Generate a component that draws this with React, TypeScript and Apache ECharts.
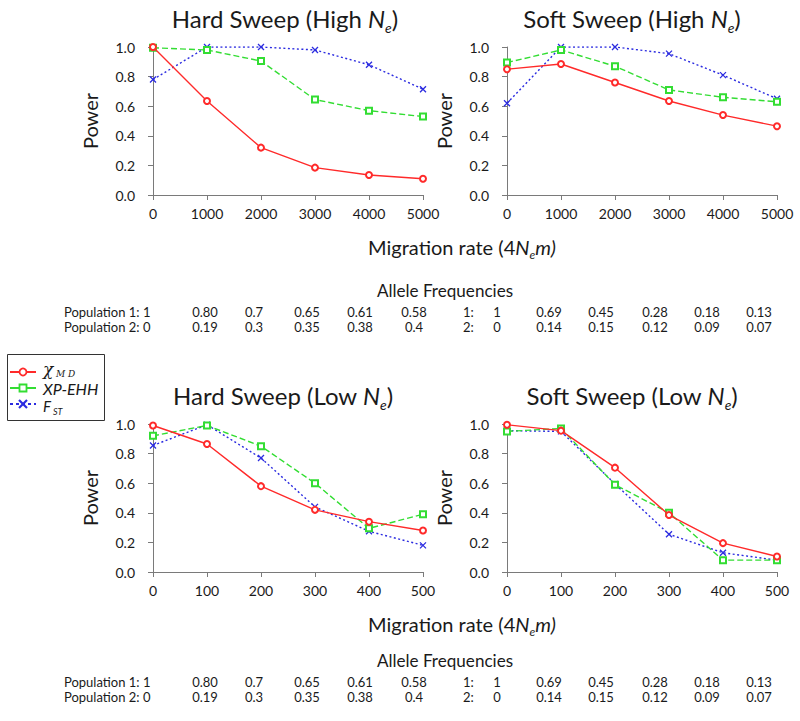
import React, { useEffect, useRef } from 'react';
import * as echarts from 'echarts';

// ---------- data ----------
const migrationHigh = [0, 1000, 2000, 3000, 4000, 5000];
const migrationLow = [0, 100, 200, 300, 400, 500];
const seriesNames = ['χMD', 'XP-EHH', 'FST'];

const hardHighChi = [1.0, 0.635, 0.32, 0.185, 0.135, 0.11];
const hardHighXp = [0.995, 0.98, 0.905, 0.645, 0.57, 0.53];
const hardHighFst = [0.78, 1.0, 1.0, 0.98, 0.88, 0.715];

const softHighChi = [0.85, 0.885, 0.76, 0.635, 0.54, 0.465];
const softHighXp = [0.895, 0.98, 0.87, 0.71, 0.66, 0.63];
const softHighFst = [0.62, 1.0, 1.0, 0.955, 0.81, 0.65];

const hardLowChi = [0.99, 0.865, 0.58, 0.42, 0.34, 0.28];
const hardLowXp = [0.92, 0.99, 0.85, 0.6, 0.295, 0.39];
const hardLowFst = [0.855, 0.995, 0.77, 0.44, 0.275, 0.18];

const softLowChi = [0.995, 0.955, 0.705, 0.385, 0.195, 0.105];
const softLowXp = [0.95, 0.97, 0.59, 0.4, 0.08, 0.08];
const softLowFst = [0.955, 0.95, 0.595, 0.255, 0.13, 0.08];

const panelTitles = ['Hard Sweep (High ', 'Soft Sweep (High ', 'Hard Sweep (Low ', 'Soft Sweep (Low '];

const hardPop1 = ['1', '0.80', '0.7', '0.65', '0.61', '0.58'];
const hardPop2 = ['0', '0.19', '0.3', '0.35', '0.38', '0.4'];
const softPop1 = ['1', '0.69', '0.45', '0.28', '0.18', '0.13'];
const softPop2 = ['0', '0.14', '0.15', '0.12', '0.09', '0.07'];

// ---------- layout ----------
const FONT = 'Lato';
const TXT = '#1a1a1a';
const AXIS = '#7a7a7a';
const RED = '#ff2a2a';
const GREEN = '#33dd33';
const BLUE = '#2b2be0';
const gridPos = [
  { left: 153, top: 47 },
  { left: 507, top: 47 },
  { left: 153, top: 424 },
  { left: 507, top: 424 },
];
const GW = 270;
const GH = 148;
const titlePos = [
  [285, 18],
  [632, 18],
  [283, 395],
  [632, 395],
];
const migLabelY = [247, 624];
const tableY = [290, 660];
const hardColX = [205, 254, 307, 360, 414];
const softColX = [549, 601, 655, 707, 759];

const panels = [
  { xs: migrationHigh, ys: [hardHighChi, hardHighXp, hardHighFst] },
  { xs: migrationHigh, ys: [softHighChi, softHighXp, softHighFst] },
  { xs: migrationLow, ys: [hardLowChi, hardLowXp, hardLowFst] },
  { xs: migrationLow, ys: [softLowChi, softLowXp, softLowFst] },
];

const XPATH = 'path://M0,0L10,10M10,0L0,10';

function richText(x: number, y: number, text: string, rich: any) {
  return {
    type: 'text',
    x,
    y,
    style: {
      text,
      rich,
      align: 'center',
      textAlign: 'center',
      verticalAlign: 'middle',
      textVerticalAlign: 'middle',
      fill: TXT,
    },
  };
}

function plainText(
  x: number,
  y: number,
  text: string,
  fontSize: number,
  align: string,
  scaleX = 1,
  extra: any = {}
) {
  return {
    type: 'text',
    x,
    y,
    scaleX,
    style: {
      text,
      fontSize,
      fontFamily: FONT,
      fill: TXT,
      align,
      textAlign: align,
      verticalAlign: 'middle',
      textVerticalAlign: 'middle',
      ...extra,
    },
  };
}

function buildOption() {
  const grid = gridPos.map((g) => ({ left: g.left, top: g.top, width: GW, height: GH }));
  const xAxis = panels.map((p, i) => ({
    gridIndex: i,
    type: 'value',
    min: 0,
    max: p.xs[p.xs.length - 1],
    interval: p.xs[1] - p.xs[0],
    offset: 5,
    axisLine: { show: true, lineStyle: { color: AXIS, width: 1 } },
    axisTick: { show: true, length: 5, lineStyle: { color: AXIS, width: 1 } },
    axisLabel: {
      color: TXT,
      fontSize: 14,
      fontFamily: FONT,
      margin: 6,
      formatter: (v: number) => String(v),
    },
    splitLine: { show: false },
  }));
  const yAxis = panels.map((_p, i) => ({
    gridIndex: i,
    type: 'value',
    min: 0,
    max: 1,
    interval: 0.2,
    offset: 10,
    name: 'Power',
    nameLocation: 'middle',
    nameRotate: 90,
    nameGap: 43,
    nameTextStyle: { fontSize: 20, fontFamily: FONT, color: TXT },
    axisLine: { show: true, lineStyle: { color: AXIS, width: 1 } },
    axisTick: { show: true, length: 5, lineStyle: { color: AXIS, width: 1 } },
    axisLabel: {
      color: TXT,
      fontSize: 14,
      fontFamily: FONT,
      margin: 8,
      formatter: (v: number) => v.toFixed(1),
    },
    splitLine: { show: false },
  }));

  const styles = [
    { color: RED, symbol: 'emptyCircle', size: 6, type: 'solid' as any },
    { color: GREEN, symbol: 'emptyRect', size: 6, type: [6, 3] as any },
    { color: BLUE, symbol: XPATH, size: 6, type: [2, 2.5] as any },
  ];
  const series: any[] = [];
  panels.forEach((p, i) => {
    p.ys.forEach((ys, k) => {
      const st = styles[k];
      series.push({
        type: 'line',
        name: seriesNames[k],
        xAxisIndex: i,
        yAxisIndex: i,
        data: p.xs.map((x, j) => [x, ys[j]]),
        symbol: st.symbol,
        symbolSize: st.size,
        symbolKeepAspect: true,
        lineStyle: { color: st.color, width: 1.4, type: st.type },
        itemStyle: { color: st.color, borderColor: st.color, borderWidth: 1.3 },
        z: 3 - k,
      });
    });
  });

  const titleRich = {
    a: { fontSize: 24, fontFamily: FONT, fill: TXT },
    n: { fontSize: 24, fontFamily: FONT, fontStyle: 'italic', fill: TXT },
    s: { fontSize: 14, fontFamily: FONT, fontStyle: 'italic', fill: TXT, padding: [18, 0, 0, 0] },
  };
  const graphic: any[] = [];
  panelTitles.forEach((t, i) => {
    graphic.push(richText(titlePos[i][0], titlePos[i][1], `{a|${t}}{n|N}{s|e}{a|)}`, titleRich));
  });

  const migRich = {
    a: { fontSize: 20, fontFamily: FONT, fill: TXT },
    n: { fontSize: 20, fontFamily: FONT, fontStyle: 'italic', fill: TXT },
    s: { fontSize: 12, fontFamily: FONT, fontStyle: 'italic', fill: TXT, padding: [14, 0, 0, 0] },
  };
  migLabelY.forEach((y) => {
    graphic.push(richText(462, y, '{a|Migration rate (4}{n|N}{s|e}{n|m)}', migRich));
  });

  // allele frequency tables
  const TS = 14;
  const SX = 0.93;
  tableY.forEach((ty) => {
    graphic.push(plainText(445, ty, 'Allele Frequencies', 18, 'center', 0.95));
    const r1 = ty + 22;
    const r2 = ty + 37;
    graphic.push(plainText(64, r1, 'Population 1: ' + hardPop1[0], TS, 'left', SX));
    graphic.push(plainText(64, r2, 'Population 2: ' + hardPop2[0], TS, 'left', SX));
    hardColX.forEach((cx, j) => {
      graphic.push(plainText(cx, r1, hardPop1[j + 1], TS, 'center', SX));
      graphic.push(plainText(cx, r2, hardPop2[j + 1], TS, 'center', SX));
    });
    graphic.push(plainText(463, r1, '1:', TS, 'left', SX));
    graphic.push(plainText(463, r2, '2:', TS, 'left', SX));
    graphic.push(plainText(497, r1, softPop1[0], TS, 'center', SX));
    graphic.push(plainText(497, r2, softPop2[0], TS, 'center', SX));
    softColX.forEach((cx, j) => {
      graphic.push(plainText(cx, r1, softPop1[j + 1], TS, 'center', SX));
      graphic.push(plainText(cx, r2, softPop2[j + 1], TS, 'center', SX));
    });
  });

  // legend
  const lx0 = 10;
  const lx1 = 36;
  const mx = 23;
  const ly = [372, 388, 404];
  graphic.push({
    type: 'rect',
    shape: { x: 7.5, y: 354.5, width: 97, height: 66 },
    style: { fill: '#fff', stroke: '#333', lineWidth: 1 },
  });
  graphic.push({ type: 'line', shape: { x1: lx0, y1: ly[0], x2: lx1, y2: ly[0] }, style: { stroke: RED, lineWidth: 2 } });
  graphic.push({ type: 'circle', shape: { cx: mx, cy: ly[0], r: 3.5 }, style: { fill: '#fff', stroke: RED, lineWidth: 1.8 } });
  graphic.push({ type: 'line', shape: { x1: lx0, y1: ly[1], x2: lx1, y2: ly[1] }, style: { stroke: GREEN, lineWidth: 2 } });
  graphic.push({ type: 'rect', shape: { x: mx - 3.5, y: ly[1] - 3.5, width: 7, height: 7 }, style: { fill: '#fff', stroke: GREEN, lineWidth: 1.8 } });
  graphic.push({ type: 'line', shape: { x1: lx0, y1: ly[2], x2: lx1, y2: ly[2] }, style: { stroke: BLUE, lineWidth: 2, lineDash: [3, 3] } });
  graphic.push({ type: 'line', shape: { x1: mx - 4, y1: ly[2] - 4, x2: mx + 4, y2: ly[2] + 4 }, style: { stroke: BLUE, lineWidth: 2.2 } });
  graphic.push({ type: 'line', shape: { x1: mx - 4, y1: ly[2] + 4, x2: mx + 4, y2: ly[2] - 4 }, style: { stroke: BLUE, lineWidth: 2.2 } });

  graphic.push(plainText(43, ly[0] - 3, 'χ', 17, 'left', 1, { fontFamily: 'DejaVu Serif', fontStyle: 'italic' }));
  graphic.push(plainText(56, ly[0] + 2, 'M D', 9, 'left', 1, { fontFamily: 'DejaVu Serif', fontStyle: 'italic' }));
  graphic.push(plainText(43, ly[1], 'XP-EHH', 16, 'left', 1, { fontStyle: 'italic' }));
  graphic.push(plainText(43, ly[2] + 1.5, 'F', 15, 'left', 1, { fontStyle: 'italic' }));
  graphic.push(plainText(53, ly[2] + 7, 'ST', 9, 'left', 1, { fontStyle: 'italic' }));

  return {
    animation: false,
    backgroundColor: '#fff',
    grid,
    xAxis,
    yAxis,
    series,
    graphic: { elements: graphic },
  };
}

export default function App() {
  const ref = useRef<HTMLDivElement>(null);
  useEffect(() => {
    if (!ref.current) return;
    const chart = echarts.init(ref.current, undefined, { renderer: 'svg' });
    chart.setOption(buildOption() as any);
    return () => chart.dispose();
  }, []);
  return (
    <div
      ref={ref}
      style={{ position: 'fixed', left: 0, top: 0, width: 800, height: 721, background: '#fff' }}
    />
  );
}
